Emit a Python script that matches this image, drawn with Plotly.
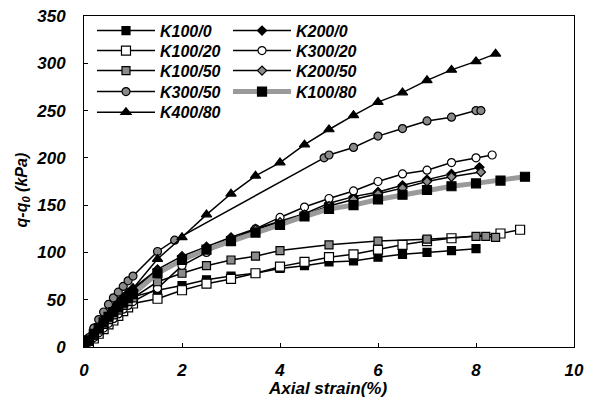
import plotly.graph_objects as go

# ---------------- data ----------------
low = [0, 0.1, 0.2, 0.3, 0.4, 0.5, 0.6, 0.7, 0.8, 0.9, 1.0]

k100_0_x = low + [1.5, 2.0, 2.5, 3.0, 3.5, 4.0, 4.5, 5.0, 5.5, 6.0, 6.5, 7.0, 7.5, 8.0]
k100_0_y = [0, 6, 12, 18, 24, 30, 35, 40, 45, 49, 53, 60, 65, 71, 75, 78, 83, 86, 90, 91, 95, 98, 100, 102, 104]

k200_0_x = low + [1.5, 2.0, 2.5, 3.0, 3.5, 4.0, 4.5, 5.0, 5.5, 6.0, 6.5, 7.0, 7.5, 8.07]
k200_0_y = [0, 8, 15, 22, 29, 35, 41, 47, 52, 57, 62, 82, 96, 106, 116, 125, 133, 141, 152, 159, 164, 171, 177, 183, 190]

k100_20_x = low + [1.5, 2.0, 2.5, 3.0, 3.5, 4.0, 4.5, 5.0, 5.5, 6.0, 6.5, 7.0, 7.5, 8.5, 8.9]
k100_20_y = [0, 4, 9, 14, 19, 24, 28, 33, 38, 42, 46, 51, 60, 67, 72, 78, 85, 90, 95, 98, 103, 108, 112, 115, 120, 124]

k300_20_x = low + [1.5, 2.0, 2.5, 3.0, 3.5, 4.0, 4.5, 5.0, 5.5, 6.0, 6.5, 7.0, 7.5, 8.0, 8.33]
k300_20_y = [0, 5, 10, 15, 20, 25, 30, 35, 40, 44, 48, 62, 86, 100, 113, 125, 137, 148, 157, 165, 175, 183, 187, 195, 200, 203]

k100_50_x = low + [1.5, 2.0, 2.5, 3.0, 3.5, 4.0, 5.0, 6.0, 7.0, 8.0, 8.2, 8.4]
k100_50_y = [0, 6, 12, 18, 24, 29, 34, 39, 44, 48, 52, 69, 78, 86, 92, 96, 102, 108, 112, 114, 117, 117, 116]

k200_50_x = low + [1.5, 2.0, 2.5, 3.0, 3.5, 4.0, 4.5, 5.0, 5.5, 6.0, 6.5, 7.0, 7.5, 8.1]
k200_50_y = [0, 8, 15, 22, 28, 34, 40, 46, 51, 56, 61, 80, 93, 104, 114, 124, 132, 140, 149, 156, 162, 168, 175, 180, 185]

k300_50_x = low + [1.5, 1.85, 4.9, 5.0, 5.5, 6.0, 6.5, 7.0, 7.5, 8.0, 8.1]
k300_50_y = [0, 10, 20, 29, 37, 45, 52, 58, 64, 70, 75, 101, 113, 200, 203, 211, 223, 231, 239, 243, 250, 250]

k100_80_x = low + [1.5, 2.0, 2.5, 3.0, 3.5, 4.0, 4.5, 5.0, 5.5, 6.0, 6.5, 7.0, 7.5, 8.0, 8.5, 9.0]
k100_80_y = [0, 7, 14, 20, 26, 32, 37, 42, 47, 52, 56, 78, 92, 103, 112, 121, 129, 138, 146, 150, 156, 161, 166, 170, 173, 176, 180]

k400_80_x = low + [1.5, 2.0, 2.5, 3.0, 3.5, 4.0, 4.5, 5.0, 5.5, 6.0, 6.5, 7.0, 7.5, 8.0, 8.4]
k400_80_y = [0, 7, 14, 21, 28, 34, 40, 46, 52, 57, 62, 93, 116, 140, 162, 181, 195, 214, 230, 245, 259, 269, 282, 293, 302, 310]

x_ticks = [0, 2, 4, 6, 8, 10]
y_ticks = [0, 50, 100, 150, 200, 250, 300, 350]

x_title = "Axial strain(%)"
y_title = "q-q<sub>0</sub> (kPa)"

FONT = "Arial, 'Liberation Sans', sans-serif"

# legend grid (column, row) for each series
legend_cols = [0.0163, 0.2939]
legend_rows = [0.9527, 0.8925, 0.8322, 0.7690, 0.7069]

fig = go.Figure()
legend_layout = {}
legend_common = dict(
    font=dict(family=FONT, size=16, color="black", weight="bold", style="italic"),
    bgcolor="rgba(0,0,0,0)", borderwidth=0, itemwidth=58,
    xanchor="left", yanchor="middle",
)

series = [
    # name, xs, ys, symbol, size, fill, line color, line width, col, row
    ("K100/0", k100_0_x, k100_0_y, "square", 8, "black", "black", 1.5, 0, 0),
    ("K200/0", k200_0_x, k200_0_y, "diamond", 7, "black", "black", 1.5, 1, 0),
    ("K100/20", k100_20_x, k100_20_y, "square", 9, "white", "black", 1.5, 0, 1),
    ("K300/20", k300_20_x, k300_20_y, "circle", 8, "white", "black", 1.5, 1, 1),
    ("K100/50", k100_50_x, k100_50_y, "square", 8, "#8a8a8a", "black", 1.5, 0, 2),
    ("K200/50", k200_50_x, k200_50_y, "diamond", 7, "#8a8a8a", "black", 1.5, 1, 2),
    ("K300/50", k300_50_x, k300_50_y, "circle", 8, "#8a8a8a", "black", 1.5, 0, 3),
    ("K100/80", k100_80_x, k100_80_y, "square", 9, "black", "#9a9a9a", 5, 1, 3),
    ("K400/80", k400_80_x, k400_80_y, "triangle-up", 9, "black", "black", 1.5, 0, 4),
]

for i, (name, xs, ys, sym, size, fill, lc, lw, col, row) in enumerate(series):
    lname = "legend" if i == 0 else f"legend{i + 1}"
    fig.add_trace(go.Scatter(
        x=xs, y=ys, name=name, mode="lines+markers",
        line=dict(color=lc, width=lw),
        marker=dict(symbol=sym, size=size, color=fill, line=dict(color="black", width=1.2)),
        legend=lname,
    ))
    legend_layout[lname] = dict(x=legend_cols[col], y=legend_rows[row], **legend_common)

title_font = dict(family=FONT, size=16, weight="bold", style="italic", color="black")

# the page body adds an 8px offset, so margins compensate for it
fig.update_layout(
    width=595, height=403,
    margin=dict(l=76, r=29, t=7, b=64),
    paper_bgcolor="white", plot_bgcolor="white",
    font=dict(family=FONT, color="black"),
    showlegend=True,
    xaxis=dict(
        range=[0, 10], tickvals=x_ticks, ticktext=[str(v) for v in x_ticks],
        showgrid=False, zeroline=False, showline=True, linecolor="black", linewidth=1,
        mirror=True, ticks="inside", ticklen=4, tickcolor="black",
        ticklabelstandoff=8, automargin=False, ticklabeloverflow="allow",
        tickfont=dict(family=FONT, size=17, weight="bold", style="italic"),
    ),
    yaxis=dict(
        range=[0, 350], tickvals=y_ticks, ticktext=[str(v) for v in y_ticks],
        showgrid=False, zeroline=False, showline=True, linecolor="black", linewidth=1,
        mirror=True, ticks="inside", ticklen=4, tickcolor="black",
        ticklabelstandoff=14, automargin=False, ticklabeloverflow="allow",
        tickfont=dict(family=FONT, size=17, weight="bold", style="italic"),
    ),
    annotations=[
        dict(text=y_title, textangle=-90, showarrow=False,
             xref="paper", yref="paper", x=-0.1265, y=0.473,
             xanchor="center", yanchor="middle", font=title_font),
        dict(text=x_title, showarrow=False,
             xref="paper", yref="paper", x=0.496, y=-0.124,
             xanchor="center", yanchor="middle",
             font=dict(title_font, size=17)),
    ],
    **legend_layout,
)

fig.write_html("out.html")
